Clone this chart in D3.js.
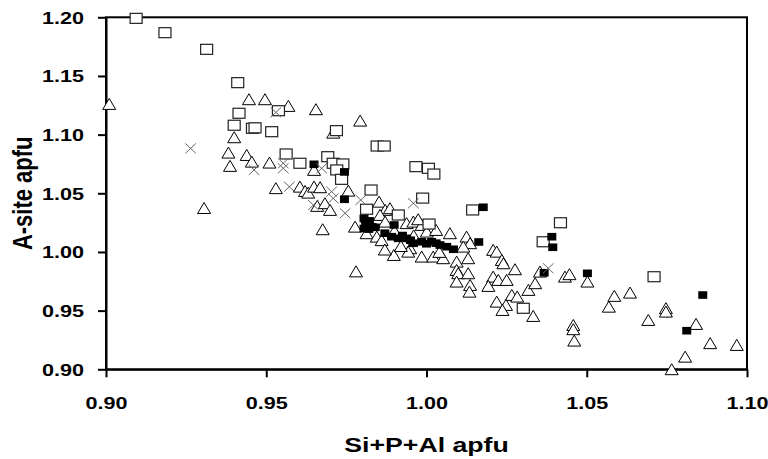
<!DOCTYPE html>
<html>
<head>
<meta charset="utf-8">
<script src="https://cdn.jsdelivr.net/npm/d3@7"></script>
<style>
    body { margin: 0; background: #fff; }
    svg { display: block; }
    text { font-family: "Liberation Sans", Arial, sans-serif; font-weight: bold; fill: #000; }
</style>
</head>
<body>
<svg></svg>
<script>
// tick values
const xTicks = [0.90, 0.95, 1.00, 1.05, 1.10];
const yTicks = [0.90, 0.95, 1.00, 1.05, 1.10, 1.15, 1.20];

// [Si+P+Al, A-site]
const triangles = [
    [0.9010, 1.1261], [0.9306, 1.0374], [0.9446, 1.1301], [0.9496, 1.1301], [0.9569, 1.1244], [0.9655, 1.1216],
    [0.9793, 1.1119], [0.9709, 1.1016], [0.9400, 1.0977], [0.9382, 1.0846], [0.9439, 1.0826], [0.9455, 1.0769],
    [0.9387, 1.0733], [0.9510, 1.0761], [0.9649, 1.0699], [0.9530, 1.0543], [0.9605, 1.0556], [0.9621, 1.0519],
    [0.9631, 1.0505], [0.9649, 1.0556], [0.9668, 1.0551], [0.9756, 1.0522], [0.9852, 1.0428], [0.9659, 1.0392],
    [0.9683, 1.0415], [0.9699, 1.0358], [0.9676, 1.0193], [0.9777, 1.0215], [0.9871, 1.0358], [0.9886, 1.0372],
    [0.9855, 1.0315], [0.9871, 1.0258], [0.9938, 1.0245], [0.9959, 1.0258], [0.9985, 1.0230], [0.9813, 1.0159],
    [0.9845, 1.0130], [0.9949, 1.0031], [0.9974, 1.0278], [1.0001, 1.0173], [1.0030, 1.0187], [1.0073, 1.0159],
    [1.0125, 1.0130], [1.0136, 1.0074], [1.0115, 1.0045], [0.9898, 0.9974], [0.9780, 0.9834], [0.9943, 1.0002],
    [0.9985, 0.9960], [1.0021, 0.9960], [1.0052, 0.9946], [1.0094, 0.9917], [1.0094, 0.9846], [1.0099, 0.9818],
    [1.0130, 0.9818], [1.0130, 0.9946], [1.0094, 0.9747], [1.0136, 0.9718], [1.0134, 0.9661], [0.9860, 1.0100],
    [0.9920, 1.0050], [0.9900, 1.0180], [0.9960, 1.0140], [1.0040, 1.0000], [0.9870, 1.0020], [1.0208, 1.0017],
    [1.0219, 1.0002], [1.0235, 0.9931], [1.0240, 0.9903], [1.0276, 0.9852], [1.0208, 0.9789], [1.0224, 0.9761],
    [1.0250, 0.9761], [1.0193, 0.9710], [1.0266, 0.9633], [1.0283, 0.9619], [1.0219, 0.9576], [1.0248, 0.9548],
    [1.0237, 0.9505], [1.0318, 0.9676], [1.0339, 0.9733], [1.0333, 0.9454], [1.0354, 0.9832], [1.0432, 0.9789],
    [1.0446, 0.9810], [1.0502, 0.9747], [1.0458, 0.9377], [1.0458, 0.9341], [1.0461, 0.9244], [1.0586, 0.9625],
    [1.0635, 0.9653], [1.0569, 0.9533], [1.0692, 0.9420], [1.0747, 0.9520], [1.0747, 0.9491], [1.0841, 0.9386],
    [1.0807, 0.9107], [1.0885, 0.9222], [1.0968, 0.9207], [1.0765, 0.9000]
];

const openSquares = [
    [0.9094, 1.1991], [0.9184, 1.1869], [0.9314, 1.1727], [0.9411, 1.1443], [0.9415, 1.1182], [0.9400, 1.1080],
    [0.9457, 1.1054], [0.9465, 1.1058], [0.9538, 1.1204], [0.9517, 1.1025], [0.9719, 1.1034], [0.9846, 1.0903],
    [0.9868, 1.0903], [0.9562, 1.0835], [0.9605, 1.0756], [0.9692, 1.0812], [0.9709, 1.0756], [0.9739, 1.0750],
    [0.9720, 1.0699], [0.9735, 1.0619], [0.9967, 1.0727], [1.0006, 1.0713], [1.0023, 1.0664], [0.9827, 1.0528],
    [0.9813, 1.0364], [0.9988, 1.0459], [0.9912, 1.0315], [1.0008, 1.0238], [1.0144, 1.0358], [1.0364, 1.0087],
    [1.0418, 1.0249], [1.0302, 0.9520], [1.0710, 0.9789]
];

const filledSquares = [
    [0.9649, 1.0747], [0.9744, 1.0682], [0.9744, 1.0449], [1.0177, 1.0381], [0.9899, 1.0230], [0.9805, 1.0285],
    [0.9822, 1.0265], [0.9810, 1.0230], [0.9830, 1.0215], [0.9820, 1.0195], [0.9805, 1.0200], [0.9840, 1.0210],
    [0.9870, 1.0160], [0.9891, 1.0130], [0.9912, 1.0116], [0.9925, 1.0140], [0.9938, 1.0116], [0.9950, 1.0100],
    [0.9959, 1.0074], [0.9985, 1.0087], [1.0000, 1.0070], [1.0016, 1.0087], [1.0030, 1.0075], [1.0042, 1.0059],
    [1.0063, 1.0045], [1.0084, 1.0023], [1.0163, 1.0085], [1.0391, 1.0130], [1.0394, 1.0040], [1.0367, 0.9823],
    [1.0502, 0.9818], [1.0862, 0.9633], [1.0812, 0.9329]
];

const crosses = [
    [0.9264, 1.0883], [0.9462, 1.0699], [0.9530, 1.1190], [0.9553, 1.0756], [0.9553, 1.0713], [0.9673, 1.0713],
    [0.9572, 1.0556], [0.9795, 1.0443], [0.9959, 1.0415], [0.9746, 1.0330], [1.0380, 0.9861], [0.9647, 1.0400],
    [0.9704, 1.0514], [0.9709, 1.0457]
];

document.addEventListener("DOMContentLoaded", function() {
    const width = 768;
    const height = 459;
    const margin = {top: 17.3, right: 21, bottom: 89.7, left: 106};
    const stretch = 1.27; // text in the original is a bit wide

    const svg = d3.select("svg")
        .attr("width", width)
        .attr("height", height);

    const x = d3.scaleLinear().domain([0.90, 1.10]).range([margin.left, width - margin.right]);
    const y = d3.scaleLinear().domain([0.90, 1.20]).range([height - margin.bottom, margin.top]);
    const fmt = d3.format(".2f");

    // frame
    svg.append("rect")
        .attr("x", x(0.90)).attr("y", y(1.20))
        .attr("width", x(1.10) - x(0.90)).attr("height", y(0.90) - y(1.20))
        .attr("fill", "none").attr("stroke", "#000").attr("stroke-width", 2);

    // axes
    const gx = svg.append("g")
        .attr("transform", `translate(0,${y(0.90)})`)
        .call(d3.axisBottom(x).tickValues(xTicks).tickSize(8).tickSizeOuter(0).tickFormat(fmt));
    gx.selectAll("text")
        .attr("y", null).attr("dy", null)
        .attr("font-size", 17)
        .attr("transform", `translate(0,39.5) scale(${stretch},1)`);

    const gy = svg.append("g")
        .attr("transform", `translate(${x(0.90)},0)`)
        .call(d3.axisLeft(y).tickValues(yTicks).tickSize(8).tickSizeOuter(0).tickFormat(fmt));
    gy.selectAll("text")
        .attr("x", null).attr("dy", null)
        .attr("font-size", 17)
        .attr("transform", `translate(-22,6) scale(${stretch},1)`);

    svg.selectAll(".domain, .tick line").attr("stroke", "#000").attr("stroke-width", 2);
    svg.selectAll(".tick text").attr("fill", "#000").attr("font-family", null);

    // axis titles
    svg.append("text")
        .attr("text-anchor", "middle")
        .attr("font-size", 21)
        .attr("transform", `translate(${(x(0.90) + x(1.10)) / 2},452) scale(${stretch},1)`)
        .text("Si+P+Al apfu");

    svg.append("text")
        .attr("text-anchor", "middle")
        .attr("font-size", 22)
        .attr("transform", `translate(31.5,${y(1.05)}) scale(${stretch},1) rotate(-90)`)
        .text("A-site apfu");

    // markers
    const plot = svg.append("g");

    plot.selectAll(".tri").data(triangles).join("path")
        .attr("class", "tri")
        .attr("transform", d => `translate(${x(d[0])},${y(d[1])})`)
        .attr("d", "M0,-5.6L6.5,5.4L-6.5,5.4Z")
        .attr("fill", "#fff").attr("stroke", "#000").attr("stroke-width", 1);

    plot.selectAll(".osq").data(openSquares).join("rect")
        .attr("class", "osq")
        .attr("x", d => x(d[0]) - 6).attr("y", d => y(d[1]) - 5)
        .attr("width", 12).attr("height", 10)
        .attr("fill", "#fff").attr("stroke", "#222").attr("stroke-width", 1.2);

    plot.selectAll(".fsq").data(filledSquares).join("rect")
        .attr("class", "fsq")
        .attr("x", d => x(d[0]) - 4.5).attr("y", d => y(d[1]) - 3.8)
        .attr("width", 9).attr("height", 7.6)
        .attr("fill", "#000");

    plot.selectAll(".crs").data(crosses).join("path")
        .attr("class", "crs")
        .attr("transform", d => `translate(${x(d[0])},${y(d[1])})`)
        .attr("d", "M-5.3,-5L5.3,5M-5.3,5L5.3,-5")
        .attr("fill", "none").attr("stroke", "#666").attr("stroke-width", 1);
});
</script>
</body>
</html>
